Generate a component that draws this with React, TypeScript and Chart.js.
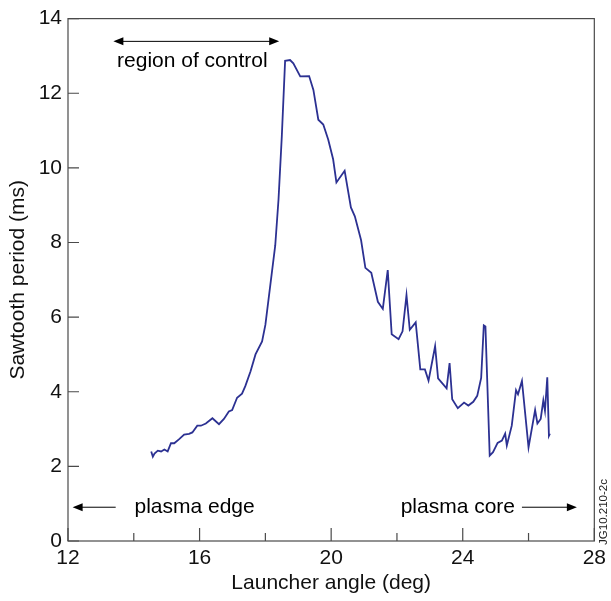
import { useEffect, useRef } from "react";
import { Chart, registerables } from "chart.js";

Chart.register(...registerables);

const launcherAngle = [
  14.53, 14.58, 14.63, 14.73, 14.83, 14.93, 15.03, 15.13, 15.23, 15.38,
  15.53, 15.68, 15.78, 15.93, 16.04, 16.19, 16.39, 16.59, 16.74, 16.89,
  16.99, 17.14, 17.29, 17.39, 17.55, 17.7, 17.9, 18.0, 18.15, 18.3,
  18.4, 18.5, 18.6, 18.75, 18.85, 19.06, 19.33, 19.46, 19.61, 19.76,
  19.91, 20.06, 20.16, 20.41, 20.6, 20.72, 20.91, 21.04, 21.22, 21.42,
  21.57, 21.72, 21.84, 22.05, 22.17, 22.29, 22.39, 22.57, 22.71, 22.85,
  22.96, 23.16, 23.25, 23.51, 23.6, 23.68, 23.85, 24.04, 24.17, 24.32,
  24.44, 24.56, 24.64, 24.69, 24.82, 24.92, 25.06, 25.19, 25.29, 25.34,
  25.49, 25.62, 25.68, 25.8, 26.0, 26.2, 26.27, 26.37, 26.45, 26.5,
  26.57, 26.62, 26.65,
];

const sawtoothPeriod = [
  2.4, 2.26, 2.34, 2.42, 2.4, 2.45, 2.4, 2.62, 2.62, 2.73,
  2.85, 2.87, 2.91, 3.09, 3.09, 3.15, 3.29, 3.13, 3.27, 3.47,
  3.51, 3.84, 3.95, 4.15, 4.55, 5.0, 5.35, 5.79, 6.86, 7.92,
  9.16, 10.85, 12.87, 12.89, 12.8, 12.45, 12.46, 12.09, 11.29, 11.16,
  10.76, 10.23, 9.61, 9.92, 8.94, 8.7, 8.06, 7.32, 7.19, 6.41,
  6.22, 7.26, 5.54, 5.41, 5.62, 6.59, 5.66, 5.86, 4.6, 4.6,
  4.3, 5.22, 4.36, 4.09, 4.77, 3.8, 3.56, 3.71, 3.63, 3.73,
  3.89, 4.37, 5.78, 5.75, 2.29, 2.38, 2.63, 2.69, 2.88, 2.56,
  3.09, 4.04, 3.93, 4.29, 2.51, 3.51, 3.15, 3.27, 3.77, 3.49,
  4.39, 2.82, 2.88,
];

const yTickValues = [0, 2, 4, 6, 8, 10, 12, 14];
const xMajorTicks = [12, 16, 20, 24, 28];
const xMinorTicks = [14, 18, 22, 26];

const FONT = "'Liberation Sans', Arial, Helvetica, sans-serif";

function drawArrowHead(ctx: CanvasRenderingContext2D, x: number, y: number, dir: number) {
  ctx.beginPath();
  ctx.moveTo(x, y);
  ctx.lineTo(x - dir * 10, y - 4);
  ctx.lineTo(x - dir * 10, y + 4);
  ctx.closePath();
  ctx.fill();
}

const framePlugin = {
  id: "frameAndAnnotations",
  afterDraw(chart: any) {
    const { ctx, chartArea } = chart;
    const xs = chart.scales.x;
    const ys = chart.scales.y;
    const { left, right, top, bottom } = chartArea;
    ctx.save();
    ctx.strokeStyle = "#4a4a4a";
    ctx.lineWidth = 1.2;
    ctx.strokeRect(left, top, right - left, bottom - top);
    ctx.beginPath();
    yTickValues.forEach((v) => {
      const py = ys.getPixelForValue(v);
      ctx.moveTo(left, py);
      ctx.lineTo(left + 11, py);
    });
    xMajorTicks.forEach((v) => {
      const px = xs.getPixelForValue(v);
      ctx.moveTo(px, bottom);
      ctx.lineTo(px, bottom - 13);
    });
    xMinorTicks.forEach((v) => {
      const px = xs.getPixelForValue(v);
      ctx.moveTo(px, bottom);
      ctx.lineTo(px, bottom - 8);
    });
    ctx.stroke();

    // annotations
    ctx.strokeStyle = "#000";
    ctx.fillStyle = "#000";
    ctx.lineWidth = 1;
    // region of control
    const ry = ys.getPixelForValue(13.39);
    const rx1 = xs.getPixelForValue(13.38);
    const rx2 = xs.getPixelForValue(18.42);
    ctx.beginPath();
    ctx.moveTo(rx1 + 5, ry);
    ctx.lineTo(rx2 - 5, ry);
    ctx.stroke();
    drawArrowHead(ctx, rx1, ry, -1);
    drawArrowHead(ctx, rx2, ry, 1);

    ctx.font = `21px ${FONT}`;
    ctx.textBaseline = "middle";
    ctx.textAlign = "center";
    ctx.fillText("region of control", xs.getPixelForValue(15.78), ys.getPixelForValue(12.86));

    // plasma edge
    const ay = ys.getPixelForValue(0.905);
    const e1 = xs.getPixelForValue(12.14);
    const e2 = xs.getPixelForValue(13.45);
    ctx.beginPath();
    ctx.moveTo(e1 + 5, ay);
    ctx.lineTo(e2, ay);
    ctx.stroke();
    drawArrowHead(ctx, e1, ay, -1);
    ctx.textAlign = "left";
    ctx.fillText("plasma edge", xs.getPixelForValue(14.02), ay);

    // plasma core
    const c1 = xs.getPixelForValue(25.8);
    const c2 = xs.getPixelForValue(27.47);
    ctx.beginPath();
    ctx.moveTo(c1, ay);
    ctx.lineTo(c2 - 5, ay);
    ctx.stroke();
    drawArrowHead(ctx, c2, ay, 1);
    ctx.textAlign = "right";
    ctx.fillText("plasma core", xs.getPixelForValue(25.59), ay);

    // figure id
    ctx.save();
    ctx.translate(604, 512);
    ctx.rotate(-Math.PI / 2);
    ctx.textAlign = "center";
    ctx.font = `11.5px ${FONT}`;
    ctx.fillStyle = "#222";
    ctx.fillText("JG10.210-2c", 0, 0);
    ctx.restore();

    ctx.restore();
  },
};

export default function App() {
  const canvasRef = useRef<HTMLCanvasElement | null>(null);

  useEffect(() => {
    document.body.style.margin = "0";
    const canvas = canvasRef.current;
    if (!canvas) return;
    const chart = new Chart(canvas, {
      type: "line",
      data: {
        datasets: [
          {
            label: "Sawtooth period",
            data: launcherAngle.map((x, i) => ({ x, y: sawtoothPeriod[i] })),
            borderColor: "#2c3192",
            borderWidth: 1.8,
            pointRadius: 0,
            tension: 0,
            fill: false,
          },
        ],
      },
      options: {
        animation: false,
        responsive: false,
        maintainAspectRatio: false,
        layout: { padding: { top: 15.5, right: 12, left: 0, bottom: 0 } },
        plugins: {
          legend: { display: false },
          tooltip: { enabled: false },
        },
        scales: {
          x: {
            type: "linear",
            min: 12,
            max: 28,
            grid: { display: false, drawTicks: false },
            border: { display: false },
            ticks: {
              stepSize: 4,
              autoSkip: false,
              padding: 5,
              color: "#111",
              font: { family: FONT, size: 21 },
            },
            title: {
              display: true,
              text: "Launcher angle (deg)",
              color: "#111",
              font: { family: FONT, size: 21 },
              padding: { top: 0, bottom: 5 },
            },
            afterFit(scale: any) {
              scale.height = 60;
            },
          },
          y: {
            type: "linear",
            min: 0,
            max: 14,
            grid: { display: false, drawTicks: false },
            border: { display: false },
            ticks: {
              stepSize: 2,
              autoSkip: false,
              padding: 6,
              color: "#111",
              font: { family: FONT, size: 21 },
            },
            title: {
              display: true,
              text: "Sawtooth period (ms)",
              color: "#111",
              font: { family: FONT, size: 21 },
              padding: { top: 6, bottom: 0 },
            },
            afterFit(scale: any) {
              scale.width = 68;
            },
          },
        },
      },
      plugins: [framePlugin],
    });
    return () => chart.destroy();
  }, []);

  return (
    <div style={{ width: 611, height: 601 }}>
      <canvas ref={canvasRef} width={611} height={601} style={{ display: "block", width: 611, height: 601 }} />
    </div>
  );
}
